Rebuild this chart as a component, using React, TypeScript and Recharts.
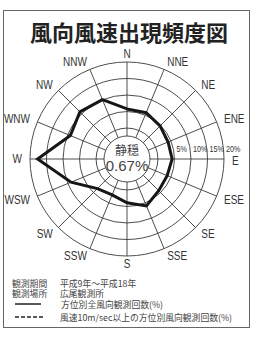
import { RadarChart, Radar, PolarGrid, PolarAngleAxis, PolarRadiusAxis } from "recharts";

// 16 compass directions, clockwise from north
const DIRECTIONS = ["N", "NNE", "NE", "ENE", "E", "ESE", "SE", "SSE", "S", "SSW", "SW", "WSW", "W", "WNW", "NW", "NNW"];
// frequency of all wind observations per direction (%)
const FREQUENCY = [5.8, 5.8, 4.8, 4.1, 4.3, 3.8, 4.2, 6.0, 3.9, 2.4, 3.3, 9.0, 17.7, 9.2, 10.8, 10.1];
const CALM = "0.67%";
const RING_TICKS = [-2.4, 0, 5, 10, 15, 20];
const PERCENT_LABELS = [5, 10, 15, 20];

const data = DIRECTIONS.map((dir, i) => ({ dir, value: FREQUENCY[i] }));

const CX = 127;
const CY = 159;
const INNER = 23;
const OUTER = 97;
const MIN = RING_TICKS[0];
const MAX = RING_TICKS[RING_TICKS.length - 1];
const ringRadius = (v: number) => INNER + ((v - MIN) * (OUTER - INNER)) / (MAX - MIN);

const SANS = "'Liberation Sans', Arial, sans-serif";
const JP = "'Noto Sans CJK JP', sans-serif";

const DirTick = (props: any) => {
  const { x, y, payload } = props;
  const dx = x - CX;
  const dy = y - CY;
  const len = Math.sqrt(dx * dx + dy * dy) || 1;
  const r = 105;
  const px = CX + (dx / len) * r;
  const py = CY + (dy / len) * r + (payload.value === "E" ? 2 : 0);
  const c = dx / len;
  const anchor = Math.abs(c) < 0.1 ? "middle" : c > 0 ? "start" : "end";
  return (
    <text
      transform={`translate(${px},${py}) scale(0.8,1)`}
      textAnchor={anchor}
      dominantBaseline="central"
      fontSize={12.5}
      fontFamily={SANS}
      fill="#333"
    >
      {payload.value}
    </text>
  );
};

const PercentTick = (props: any) => {
  const { x, y, payload } = props;
  if (!PERCENT_LABELS.includes(payload.value)) return <g />;
  return (
    <text
      transform={`translate(${x + 2},${y - 10}) scale(0.8,1)`}
      dominantBaseline="central"
      fontSize={9}
      fontFamily={SANS}
      fill="#333"
    >
      {payload.value}%
    </text>
  );
};

const legendRow = (top: number, left: number, text: string) => (
  <div style={{ position: "absolute", top, left, fontSize: 8.8, lineHeight: "9px", color: "#444", fontFamily: JP, whiteSpace: "nowrap" }}>
    {text}
  </div>
);

export default function App() {
  return (
    <div style={{ position: "absolute", left: 0, top: 0, width: 255, height: 338, background: "#fff" }}>
      <div style={{ position: "absolute", left: 3, top: 10, width: 247, height: 318, border: "1px solid #666", boxSizing: "border-box" }} />
      <div style={{ position: "absolute", left: 0, top: 19, width: 258, textAlign: "center", fontSize: 22, lineHeight: "24px", fontWeight: 700, color: "#222", fontFamily: JP }}>
        風向風速出現頻度図
      </div>
      <div style={{ position: "absolute", left: 0, top: 0 }}>
        <RadarChart width={255} height={338} cx={CX} cy={CY} innerRadius={INNER} outerRadius={OUTER} data={data}>
          <PolarGrid stroke="#3a3a3a" strokeWidth={0.9} gridType="circle" polarRadius={RING_TICKS.map(ringRadius)} />
          <PolarRadiusAxis
            angle={0}
            type="number"
            domain={[MIN, MAX]}
            ticks={RING_TICKS}
            axisLine={false}
            tickLine={false}
            tick={PercentTick}
          />
          <PolarAngleAxis dataKey="dir" tick={DirTick} tickLine={false} axisLine={false} tickSize={6} />
          <Radar dataKey="value" stroke="#161616" strokeWidth={3} fill="none" dot={false} isAnimationActive={false} />
        </RadarChart>
      </div>
      <div style={{ position: "absolute", left: CX - 30, top: 143, width: 60, textAlign: "center", fontSize: 12, lineHeight: "14px", color: "#444", fontFamily: JP }}>
        静穏
      </div>
      <div style={{ position: "absolute", left: CX - 30, top: 158, width: 60, textAlign: "center", fontSize: 15, lineHeight: "16px", color: "#444", fontFamily: SANS }}>
        {CALM}
      </div>
      {legendRow(278.5, 12, "観測期間")}
      {legendRow(278.5, 60, "平成9年～平成18年")}
      {legendRow(289, 12, "観測場所")}
      {legendRow(289, 60, "広尾観測所")}
      <svg style={{ position: "absolute", left: 0, top: 295 }} width={60} height={30}>
        <line x1={15} x2={41} y1={9} y2={9} stroke="#222" strokeWidth={1.5} />
        <line x1={15} x2={43} y1={22} y2={22} stroke="#222" strokeWidth={1.5} strokeDasharray="4 2" />
      </svg>
      {legendRow(299.5, 61, "方位別全風向観測回数(%)")}
      {legendRow(312.5, 60, "風速10m/sec以上の方位別風向観測回数(%)")}
    </div>
  );
}
